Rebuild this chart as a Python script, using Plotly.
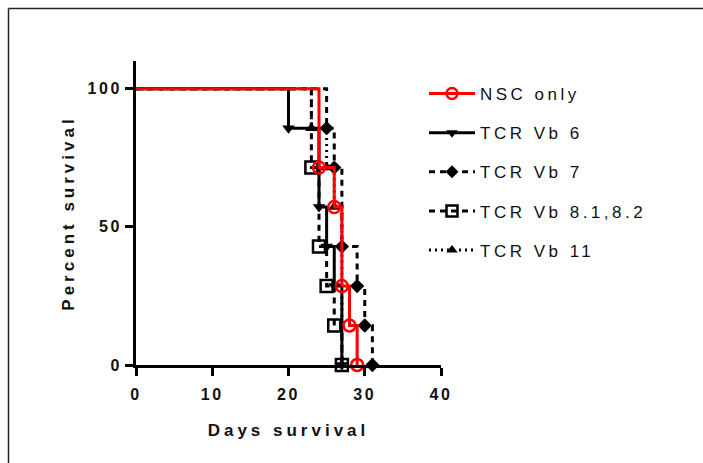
import plotly.graph_objects as go

# ---- data (Kaplan-Meier steps, n = 7 per group) ----
series_names = ["NSC only", "TCR Vb 6", "TCR Vb 7", "TCR Vb 8.1,8.2", "TCR Vb 11"]

nsc_days = [0, 24, 26, 27, 28, 29]
nsc_surv = [100, 71.43, 57.14, 28.57, 14.29, 0]

vb6_days = [0, 20, 24, 25, 26, 27]
vb6_surv = [100, 85.71, 57.14, 42.86, 28.57, 0]

vb7_days = [0, 25, 26, 27, 29, 30, 31]
vb7_surv = [100, 85.71, 71.43, 42.86, 28.57, 14.29, 0]

vb8_days = [0, 23, 24, 25, 26, 27]
vb8_surv = [100, 71.43, 42.86, 28.57, 14.29, 0]

vb11_days = [0, 23, 25, 26, 27]
vb11_surv = [100, 85.71, 71.43, 57.14, 0]

x_ticks = [0, 10, 20, 30, 40]
y_ticks = [0, 50, 100]

# ---- styles ----
styles = {
    "NSC only": dict(color="#FF0000", width=3, dash="solid", symbol="circle-open", size=12, mlw=2.5),
    "TCR Vb 6": dict(color="#000000", width=3, dash="solid", symbol="triangle-down", size=11, mlw=0),
    "TCR Vb 7": dict(color="#000000", width=3, dash="6px,5px", symbol="diamond", size=11, mlw=0),
    "TCR Vb 8.1,8.2": dict(color="#000000", width=3, dash="6px,5px", symbol="square-open", size=12, mlw=2.5),
    "TCR Vb 11": dict(color="#000000", width=3, dash="2px,4px", symbol="triangle-up", size=11, mlw=0),
}
data = {
    "NSC only": (nsc_days, nsc_surv),
    "TCR Vb 6": (vb6_days, vb6_surv),
    "TCR Vb 7": (vb7_days, vb7_surv),
    "TCR Vb 8.1,8.2": (vb8_days, vb8_surv),
    "TCR Vb 11": (vb11_days, vb11_surv),
}

fig = go.Figure()

# legend-only entries (in legend order)
for i, name in enumerate(series_names):
    s = styles[name]
    fig.add_trace(go.Scatter(
        x=[None], y=[None], name=name, mode="lines+markers",
        legendgroup=f"g{i}",
        line=dict(color=s["color"], width=s["width"], dash=s["dash"]),
        marker=dict(symbol=s["symbol"], size=s["size"] - 1, color=s["color"],
                    line=dict(color=s["color"], width=s["mlw"])),
    ))

# step curves (red drawn last, on top)
for name in ["TCR Vb 11", "TCR Vb 8.1,8.2", "TCR Vb 7", "TCR Vb 6", "NSC only"]:
    s = styles[name]
    xs, ys = data[name]
    fig.add_trace(go.Scatter(
        x=xs, y=ys, mode="lines", line_shape="hv", showlegend=False,
        line=dict(color=s["color"], width=s["width"], dash=s["dash"]),
        cliponaxis=False, hoverinfo="skip",
    ))
    fig.add_trace(go.Scatter(
        x=xs[1:], y=ys[1:], mode="markers", showlegend=False,
        marker=dict(symbol=s["symbol"], size=s["size"], color=s["color"],
                    line=dict(color=s["color"], width=s["mlw"])),
        cliponaxis=False, hoverinfo="skip",
    ))

L, R, T, B = 136, 441, 61, 365
W, H = 703, 463

def px2paper_x(px):
    return (px - L) / (R - L)

def px2paper_y(py):
    return (B - py) / (B - T)

tickfont = dict(family="Liberation Sans, Arial", size=16, color="#111111", weight="bold")
titlefont = dict(family="Liberation Sans, Arial", size=17, color="#111111", weight="bold")

fig.update_layout(
    width=W, height=H,
    margin=dict(l=L, r=W - R, t=T, b=H - B, pad=0),
    paper_bgcolor="white", plot_bgcolor="white",
    showlegend=True,
    legend=dict(
        x=px2paper_x(424), y=px2paper_y(76), xanchor="left", yanchor="top",
        font=dict(family="Liberation Sans, Arial", size=17, color="#121212"),
        itemwidth=46, tracegroupgap=14, traceorder="grouped",
        bgcolor="rgba(0,0,0,0)", borderwidth=0,
    ),
    xaxis=dict(
        range=[0, 40], tickvals=x_ticks, ticktext=[str(v) for v in x_ticks],
        showline=True, linecolor="black", linewidth=3,
        ticks="outside", ticklen=8, tickwidth=3, tickcolor="black",
        ticklabelstandoff=5,
        showgrid=False, zeroline=False, tickfont=tickfont,
        title=dict(text="Days survival", font=titlefont, standoff=22),
    ),
    yaxis=dict(
        range=[0, 110], tickvals=y_ticks, ticktext=[str(v) for v in y_ticks],
        showline=True, linecolor="black", linewidth=3,
        ticks="outside", ticklen=8, tickwidth=3, tickcolor="black",
        showgrid=False, zeroline=False, tickfont=tickfont,
        title=dict(text="Percent survival", font=titlefont, standoff=17),
    ),
    shapes=[
        dict(type="line", xref="paper", yref="paper",
             x0=px2paper_x(8.5), x1=px2paper_x(703), y0=px2paper_y(8.5), y1=px2paper_y(8.5),
             line=dict(color="#222222", width=1.5)),
        dict(type="line", xref="paper", yref="paper",
             x0=px2paper_x(8.5), x1=px2paper_x(8.5), y0=px2paper_y(8.5), y1=px2paper_y(463),
             line=dict(color="#222222", width=1.5)),
    ],
)

post = """
var st = document.createElement('style');
st.innerHTML = '.xtick text, .ytick text {letter-spacing: 2.5px;} .g-xtitle text, .g-ytitle text {letter-spacing: 4px;} .legendtext {letter-spacing: 3.5px;}';
document.head.appendChild(st);
var gdiv = document.getElementById('{plot_id}');
Plotly.relayout(gdiv, {'legend.font.color': '#111111', 'legend.font.size': 17.01});
"""

fig.write_html("out.html", post_script=post, config={"displayModeBar": False})
